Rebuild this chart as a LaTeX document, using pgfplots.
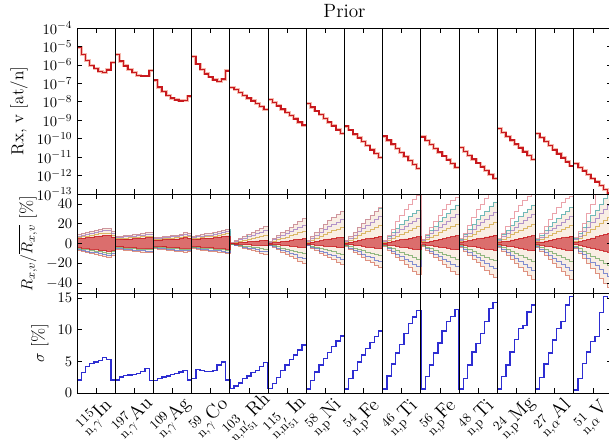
\documentclass[border=0pt]{standalone}
\usepackage{pgfplots}
\usepgfplotslibrary{fillbetween}
\pgfplotsset{compat=1.18}
\usepackage{pgfplotstable}

\definecolor{rxred}{RGB}{200,25,30}
\definecolor{rxhalo}{RGB}{240,140,120}
\definecolor{sigblue}{RGB}{45,45,210}
\definecolor{fanfill}{RGB}{235,200,165}
\definecolor{cteal}{RGB}{80,170,170}
\definecolor{cpurp}{RGB}{150,110,190}
\definecolor{colive}{RGB}{205,160,50}
\definecolor{cgreen}{RGB}{100,160,85}
\definecolor{cblue}{RGB}{80,100,200}
\definecolor{cbrown}{RGB}{215,120,100}
\definecolor{cpink}{RGB}{230,140,150}

% top panel: one step line per reaction, nan separates the reactions
\pgfplotstableread{
x rx
0 8.9e-6
1 3.55e-6
2 1.74e-6
3 9.3e-7
4 6.2e-7
5 4.4e-7
6 3.9e-7
7 5.4e-7
8 1.38e-6
9 1.38e-6
9 nan
9 3.7e-6
10 1.58e-6
11 8.9e-7
12 5.5e-7
13 3.8e-7
14 2.75e-7
15 2.5e-7
16 2.5e-7
17 5.0e-7
18 5.0e-7
18 nan
18 1.51e-7
19 6.3e-8
20 3.55e-8
21 2.24e-8
22 1.58e-8
23 1.26e-8
24 1.12e-8
25 1.17e-8
26 2.04e-8
27 2.04e-8
27 nan
27 2.9e-6
28 1.12e-6
29 5.5e-7
30 3.3e-7
31 2.2e-7
32 1.55e-7
33 1.26e-7
34 1.7e-7
35 4.8e-7
36 4.8e-7
36 nan
36 6.0e-8
37 4.5e-8
38 3.16e-8
39 2.24e-8
40 1.58e-8
41 1.12e-8
42 7.9e-9
43 5.6e-9
44 3.8e-9
45 3.8e-9
45 nan
45 1.35e-8
46 8.9e-9
47 6.0e-9
48 4.0e-9
49 2.7e-9
50 1.78e-9
51 1.2e-9
52 7.9e-10
53 5.4e-10
54 5.4e-10
54 nan
54 8.1e-9
55 5.1e-9
56 3.16e-9
57 2.0e-9
58 1.26e-9
59 7.8e-10
60 4.9e-10
61 3.0e-10
62 1.9e-10
63 1.9e-10
63 nan
63 4.8e-10
64 2.95e-10
65 1.78e-10
66 1.1e-10
67 6.8e-11
68 4.2e-11
69 2.5e-11
70 1.55e-11
71 9.5e-12
72 9.5e-12
72 nan
72 1.38e-10
73 8.3e-11
74 5.0e-11
75 3.0e-11
76 1.82e-11
77 1.1e-11
78 6.6e-12
79 4.0e-12
80 2.4e-12
81 2.4e-12
81 nan
81 1.26e-10
82 7.8e-11
83 4.8e-11
84 3.0e-11
85 1.86e-11
86 1.15e-11
87 7.1e-12
88 4.5e-12
89 2.75e-12
90 2.75e-12
90 nan
90 3.3e-11
91 2.04e-11
92 1.26e-11
93 7.8e-12
94 4.8e-12
95 2.95e-12
96 1.82e-12
97 1.12e-12
98 6.9e-13
99 6.9e-13
99 nan
99 3.55e-10
100 2.2e-10
101 1.35e-10
102 8.3e-11
103 5.1e-11
104 3.16e-11
105 1.95e-11
106 1.2e-11
107 7.4e-12
108 7.4e-12
108 nan
108 1.9e-10
109 1.15e-10
110 6.9e-11
111 4.2e-11
112 2.5e-11
113 1.5e-11
114 9.1e-12
115 5.5e-12
116 3.3e-12
117 3.3e-12
117 nan
117 4.5e-12
118 2.8e-12
119 1.78e-12
120 1.12e-12
121 7.1e-13
122 4.5e-13
123 2.8e-13
124 1.78e-13
125 1.12e-13
126 1.12e-13
}\rxdata

% middle and bottom panels
\pgfplotstableread{
x sig o u a m c cl ml al l
0 2.05 9 9 7.7 6.3 5 -3.9 -4.9 -6 -7
1 3.2 10 10 8.5 7 5.5 -4.4 -5.6 -6.8 -8
2 4.2 11 11 9.4 7.7 6 -5 -6.3 -7.7 -9
3 4.7 12 12 10.2 8.4 6.6 -5.5 -7 -8.5 -10
4 4.9 13 13 11.1 9.1 7.2 -6 -7.7 -9.4 -11
5 5.1 14 14 11.9 9.8 7.7 -6.6 -8.4 -10.2 -12
6 5.6 15 15 12.8 10.5 8.3 -7.2 -9.1 -11.1 -13
7 5.3 15 15 12.8 10.5 8.3 -7.7 -9.8 -11.9 -14
8 2.05 12 12 10.2 8.4 6.6 -6.6 -8.4 -10.2 -12
9 2.05 7 7 6 4.9 3.9 -3.3 -4.2 -5.1 -6
10 2.55 7.5 7.5 6.4 5.3 4.1 -3.3 -4.2 -5.1 -6
11 2.75 8 8 6.8 5.6 4.4 -3.6 -4.6 -5.5 -6.5
12 2.85 8.5 8.5 7.2 6 4.7 -3.9 -4.9 -6 -7
13 2.95 9 9 7.7 6.3 5 -4.1 -5.3 -6.4 -7.5
14 3.1 9.5 9.5 8.1 6.7 5.2 -4.4 -5.6 -6.8 -8
15 3.4 10 10 8.5 7 5.5 -4.7 -6 -7.2 -8.5
16 3.9 11 11 9.4 7.7 6 -5 -6.3 -7.7 -9
17 2.0 11 11 9.4 7.7 6 -5 -6.3 -7.7 -9
18 1.95 6 6 5.1 4.2 3.3 -2.8 -3.5 -4.3 -5
19 2.3 6.5 6.5 5.5 4.6 3.6 -3 -3.9 -4.7 -5.5
20 2.55 7 7 6 4.9 3.9 -3.3 -4.2 -5.1 -6
21 2.7 7.5 7.5 6.4 5.3 4.1 -3.6 -4.6 -5.5 -6.5
22 2.9 8 8 6.8 5.6 4.4 -3.9 -4.9 -6 -7
23 3.05 8.5 8.5 7.2 6 4.7 -4.1 -5.3 -6.4 -7.5
24 3.3 9.5 9.5 8.1 6.7 5.2 -4.4 -5.6 -6.8 -8
25 3.6 11 11 9.4 7.7 6 -4.7 -6 -7.2 -8.5
26 2.05 10 10 8.5 7 5.5 -4.4 -5.6 -6.8 -8
27 2.3 7 7 6 4.9 3.9 -2.8 -3.5 -4.3 -5
28 3.7 8 8 6.8 5.6 4.4 -3.3 -4.2 -5.1 -6
29 3.6 9 9 7.7 6.3 5 -3.6 -4.6 -5.5 -6.5
30 3.4 10 10 8.5 7 5.5 -3.9 -4.9 -6 -7
31 3.4 10 10 8.5 7 5.5 -4.1 -5.3 -6.4 -7.5
32 3.6 11 11 9.4 7.7 6 -4.4 -5.6 -6.8 -8
33 4.4 12 12 10.2 8.4 6.6 -4.7 -6 -7.2 -8.5
34 4.9 13 13 11.1 9.1 7.2 -5 -6.3 -7.7 -9
35 2.05 14 14 11.9 9.8 7.7 -5.5 -7 -8.5 -10
36 0.74 1 1 0.8 0.5 0.2 -0.2 -0.5 -0.8 -1
37 1.1 3 3 2.3 1.5 0.6 -0.4 -1 -1.5 -2
38 1.6 5 5 3.8 2.5 1 -0.6 -1.5 -2.3 -3
39 2.3 7 7 5.3 3.5 1.4 -1 -2.5 -3.8 -5
40 2.7 9 9 6.8 4.5 1.8 -1.2 -3 -4.5 -6
41 3.2 11 11 8.3 5.5 2.2 -1.4 -3.5 -5.3 -7
42 3.6 13 13 9.8 6.5 2.6 -1.6 -4 -6 -8
43 4.2 15 15 11.3 7.5 3 -2 -5 -7.5 -10
44 4.85 17 17 12.8 8.5 3.4 -2.2 -5.5 -8.3 -11
45 0.74 2 2 1.5 1 0.4 -0.4 -1 -1.5 -2
46 1.5 5 5 3.8 2.5 1 -0.8 -2 -3 -4
47 2.5 8 8 6 4 1.6 -1.2 -3 -4.5 -6
48 3.6 11 11 8.3 5.5 2.2 -1.8 -4.5 -6.8 -9
49 4.4 13 13 9.8 6.5 2.6 -2.2 -5.5 -8.3 -11
50 5.3 16 16 12 8 3.2 -2.6 -6.5 -9.8 -13
51 6.0 19 19 14.3 9.5 3.8 -3 -7.5 -11.3 -15
52 6.8 22 22 16.5 11 4.4 -3.6 -9 -13.5 -18
53 7.6 25 25 18.8 12.5 5 -4 -10 -15 -20
54 0.65 3 3 2.3 1.5 0.6 -0.4 -1 -1.5 -2
55 2.0 7 7 5.3 3.5 1.4 -1 -2.5 -3.8 -5
56 3.3 11 11 8.3 5.5 2.2 -1.4 -3.5 -5.3 -7
57 4.4 15 15 11.3 7.5 3 -2 -5 -7.5 -10
58 5.5 19 19 14.3 9.5 3.8 -2.4 -6 -9 -12
59 6.4 23 23 17.3 11.5 4.6 -2.8 -7 -10.5 -14
60 7.3 26 26 19.5 13 5.2 -3.2 -8 -12 -16
61 8.2 29 29 21.8 14.5 5.8 -3.8 -9.5 -14.3 -19
62 9.0 32 32 24 16 6.4 -4.2 -10.5 -15.8 -21
63 0.63 3 3 2.3 1.5 0.6 -0.6 -1.5 -2.3 -3
64 2.3 7 7 5.3 3.5 1.4 -1.2 -3 -4.5 -6
65 3.6 11 11 8.3 5.5 2.2 -1.8 -4.5 -6.8 -9
66 4.9 16 16 12 8 3.2 -2.2 -5.5 -8.3 -11
67 6.0 20 20 15 10 4 -2.8 -7 -10.5 -14
68 7.05 24 24 18 12 4.8 -3.4 -8.5 -12.8 -17
69 8.0 28 28 21 14 5.6 -3.8 -9.5 -14.3 -19
70 8.9 32 32 24 16 6.4 -4.4 -11 -16.5 -22
71 9.8 36 36 27 18 7.2 -4.8 -12 -18 -24
72 0.63 3 3 2.3 1.5 0.6 -0.6 -1.5 -2.3 -3
73 2.7 8 7 5.3 3.5 1.4 -1.4 -3.5 -5.3 -7
74 4.6 14 11 8.3 5.5 2.2 -2 -5 -7.5 -10
75 6.3 22 15 11.3 7.5 3 -2.8 -7 -10.5 -14
76 7.7 28 19 14.3 9.5 3.8 -3.4 -8.5 -12.8 -17
77 9.4 34 23 17.3 11.5 4.6 -4.2 -10.5 -15.8 -21
78 11.0 40 27 20.3 13.5 5.4 -4.8 -12 -18 -24
79 12.0 45 30 22.5 15 6 -5.6 -14 -21 -28
80 13.0 49 34 25.5 17 6.8 -6.2 -15.5 -23.3 -31
81 0.63 4 4 3 2 0.8 -0.6 -1.5 -2.3 -3
82 2.6 9 8 6 4 1.6 -1.4 -3.5 -5.3 -7
83 4.4 16 13 9.8 6.5 2.6 -2 -5 -7.5 -10
84 6.3 22 17 12.8 8.5 3.4 -2.8 -7 -10.5 -14
85 7.9 28 22 16.5 11 4.4 -3.4 -8.5 -12.8 -17
86 9.8 34 26 19.5 13 5.2 -4.2 -10.5 -15.8 -21
87 11.3 40 30 22.5 15 6 -4.8 -12 -18 -24
88 12.1 44 35 26.3 17.5 7 -5.6 -14 -21 -28
89 13.2 47 39 29.3 19.5 7.8 -6.2 -15.5 -23.3 -31
90 0.63 5 4 3 2 0.8 -0.8 -2 -3 -4
91 2.3 10 9 6.8 4.5 1.8 -1.6 -4 -6 -8
92 4.4 18 14 10.5 7 2.8 -2.4 -6 -9 -12
93 6.5 26 19 14.3 9.5 3.8 -3.2 -8 -12 -16
94 7.8 34 24 18 12 4.8 -3.8 -9.5 -14.3 -19
95 9.4 40 28 21 14 5.6 -4.6 -11.5 -17.3 -23
96 11.3 46 33 24.8 16.5 6.6 -5.4 -13.5 -20.3 -27
97 13.4 52 38 28.5 19 7.6 -6.2 -15.5 -23.3 -31
98 14.3 55 42 31.5 21 8.4 -6.8 -17 -25.5 -34
99 0.63 5 4 3 2 0.8 -0.8 -2 -3 -4
100 2.6 10 9 6.8 4.5 1.8 -1.6 -4 -6 -8
101 4.4 17 13 9.8 6.5 2.6 -2.4 -6 -9 -12
102 6.5 25 18 13.5 9 3.6 -3.2 -8 -12 -16
103 8.5 32 22 16.5 11 4.4 -4 -10 -15 -20
104 10.2 38 27 20.3 13.5 5.4 -4.8 -12 -18 -24
105 10.7 44 31 23.3 15.5 6.2 -5.6 -14 -21 -28
106 12.8 48 35 26.3 17.5 7 -6.4 -16 -24 -32
107 13.9 52 39 29.3 19.5 7.8 -7.2 -18 -27 -36
108 0.63 5 4 3 2 0.8 -0.8 -2 -3 -4
109 2.5 10 8 6 4 1.6 -1.6 -4 -6 -8
110 4.6 17 13 9.8 6.5 2.6 -2.4 -6 -9 -12
111 6.3 24 17 12.8 8.5 3.4 -3.2 -8 -12 -16
112 8.4 30 21 15.8 10.5 4.2 -4 -10 -15 -20
113 10.2 36 25 18.8 12.5 5 -4.8 -12 -18 -24
114 11.3 42 29 21.8 14.5 5.8 -5.6 -14 -21 -28
115 13.9 46 33 24.8 16.5 6.6 -6.4 -16 -24 -32
116 15.2 48 37 27.8 18.5 7.4 -7.2 -18 -27 -36
117 0.5 6 5 3.8 2.5 1 -1 -2.5 -3.8 -5
118 2.3 12 10 7.5 5 2 -2 -5 -7.5 -10
119 4.7 20 16 12 8 3.2 -3 -7.5 -11.3 -15
120 6.5 30 22 16.5 11 4.4 -4 -10 -15 -20
121 8.1 40 28 21 14 5.6 -5 -12.5 -18.8 -25
122 8.9 50 34 25.5 17 6.8 -6 -15 -22.5 -30
123 12.7 55 40 30 20 8 -7 -17.5 -26.3 -35
124 15.3 60 46 34.5 23 9.2 -8 -20 -30 -40
125 14.9 60 52 39 26 10.4 -8.8 -22 -33 -44
126 14.9 60 52 39 26 10.4 -8.8 -22 -33 -44
}\data

\pgfplotsset{
  panel/.style={
    scale only axis, width=401.25pt,
    xmin=0, xmax=126, enlargelimits=false,
    axis on top,
    xtick={4.5,13.5,22.5,31.5,40.5,49.5,58.5,67.5,76.5,85.5,94.5,103.5,112.5,121.5},
    extra x ticks={9,18,27,36,45,54,63,72,81,90,99,108,117},
    extra x tick labels={},
    extra x tick style={grid=major, major grid style={black, line width=0.7pt}, major tick length=0pt},
    tick align=inside,
    major tick length=4pt,
    axis line style={line width=0.7pt},
    tick style={black, line width=0.5pt},
    yticklabel style={font=\fontsize{11}{13}\selectfont},
    ylabel style={font=\fontsize{13}{16}\selectfont},
  }
}

\begin{document}
\begin{tikzpicture}

% top panel
\begin{axis}[panel,
  at={(57.75pt,-21pt)}, anchor=north west,
  height=124.5pt,
  ymode=log, ymin=1e-13, ymax=1e-4,
  ytick={1e-13,1e-12,1e-11,1e-10,1e-9,1e-8,1e-7,1e-6,1e-5,1e-4},
  yminorticks=false,
  xticklabels={},
  unbounded coords=jump,
  ylabel={Rx, v [at/n]},
  title={Prior}, title style={font=\Large, yshift=-2pt},
]
\addplot[const plot mark left, rxhalo, line width=2.2pt, opacity=0.6] table[x=x,y=rx]{\rxdata};
\addplot[const plot mark left, rxred, line width=1.1pt] table[x=x,y=rx]{\rxdata};
\end{axis}

% middle panel
\begin{axis}[panel,
  at={(57.75pt,-145.5pt)}, anchor=north west,
  height=74.25pt,
  ymin=-50, ymax=50,
  ytick={-40,-20,0,20,40},
  xticklabels={},
  ylabel={$R_{x,v}/\overline{R_{x,v}}$ [\%]},
]
\addplot[const plot mark left, draw=none, name path=U] table[x=x,y=u]{\data};
\addplot[const plot mark left, draw=none, name path=L] table[x=x,y=l]{\data};
\addplot[const plot mark left, draw=none, name path=C] table[x=x,y=c]{\data};
\addplot[const plot mark left, draw=none, name path=CL] table[x=x,y=cl]{\data};
\addplot[fill=fanfill, fill opacity=0.3, draw=none] fill between[of=U and L];
\addplot[const plot mark left, cbrown, line width=0.5pt, opacity=0.8] table[x=x,y=l]{\data};
\addplot[const plot mark left, cblue, line width=0.5pt, opacity=0.7] table[x=x,y=al]{\data};
\addplot[const plot mark left, cgreen, line width=0.5pt, opacity=0.7] table[x=x,y=ml]{\data};
\addplot[const plot mark left, colive, line width=0.5pt, opacity=0.7] table[x=x,y=m]{\data};
\addplot[const plot mark left, cpurp, line width=0.5pt, opacity=0.7] table[x=x,y=a]{\data};
\addplot[const plot mark left, cteal, line width=0.5pt, opacity=0.8] table[x=x,y=u]{\data};
\addplot[const plot mark left, cpink, line width=0.6pt, opacity=0.8] table[x=x,y=o]{\data};
\addplot[fill=rxred, fill opacity=0.6, draw=none] fill between[of=C and CL];
\addplot[const plot mark left, rxred, line width=0.5pt, opacity=0.8] table[x=x,y=c]{\data};
\addplot[const plot mark left, rxred, line width=0.5pt, opacity=0.8] table[x=x,y=cl]{\data};
\end{axis}

% bottom panel
\begin{axis}[panel,
  at={(57.75pt,-219.75pt)}, anchor=north west,
  height=75pt,
  ymin=0, ymax=15.8,
  ytick={0,5,10,15},
  ylabel={$\sigma$ [\%]},
  xticklabels={
    {${}^{115}_{\mathrm{n},\gamma}\mathrm{In}$},
    {${}^{197}_{\mathrm{n},\gamma}\mathrm{Au}$},
    {${}^{109}_{\mathrm{n},\gamma}\mathrm{Ag}$},
    {${}^{59}_{\mathrm{n},\gamma}\mathrm{Co}$},
    {${}^{103}_{\mathrm{n},\mathrm{n}'_{51}}\mathrm{Rh}$},
    {${}^{115}_{\mathrm{n},\mathrm{n}'_{51}}\mathrm{In}$},
    {${}^{58}_{\mathrm{n},\mathrm{p}}\mathrm{Ni}$},
    {${}^{54}_{\mathrm{n},\mathrm{p}}\mathrm{Fe}$},
    {${}^{46}_{\mathrm{n},\mathrm{p}}\mathrm{Ti}$},
    {${}^{56}_{\mathrm{n},\mathrm{p}}\mathrm{Fe}$},
    {${}^{48}_{\mathrm{n},\mathrm{p}}\mathrm{Ti}$},
    {${}^{24}_{\mathrm{n},\mathrm{p}}\mathrm{Mg}$},
    {${}^{27}_{\mathrm{n},\alpha}\mathrm{Al}$},
    {${}^{51}_{\mathrm{n},\alpha}\mathrm{V}$}},
  xticklabel style={font=\fontsize{14}{16}\selectfont, anchor=center, yshift=-18pt, rotate=45},
]
\addplot[const plot mark left, sigblue, line width=1pt] table[x=x,y=sig]{\data};
\end{axis}

\pgfresetboundingbox
\path[use as bounding box] (0,0) rectangle (456.75pt,-329.25pt);
\end{tikzpicture}
\end{document}
